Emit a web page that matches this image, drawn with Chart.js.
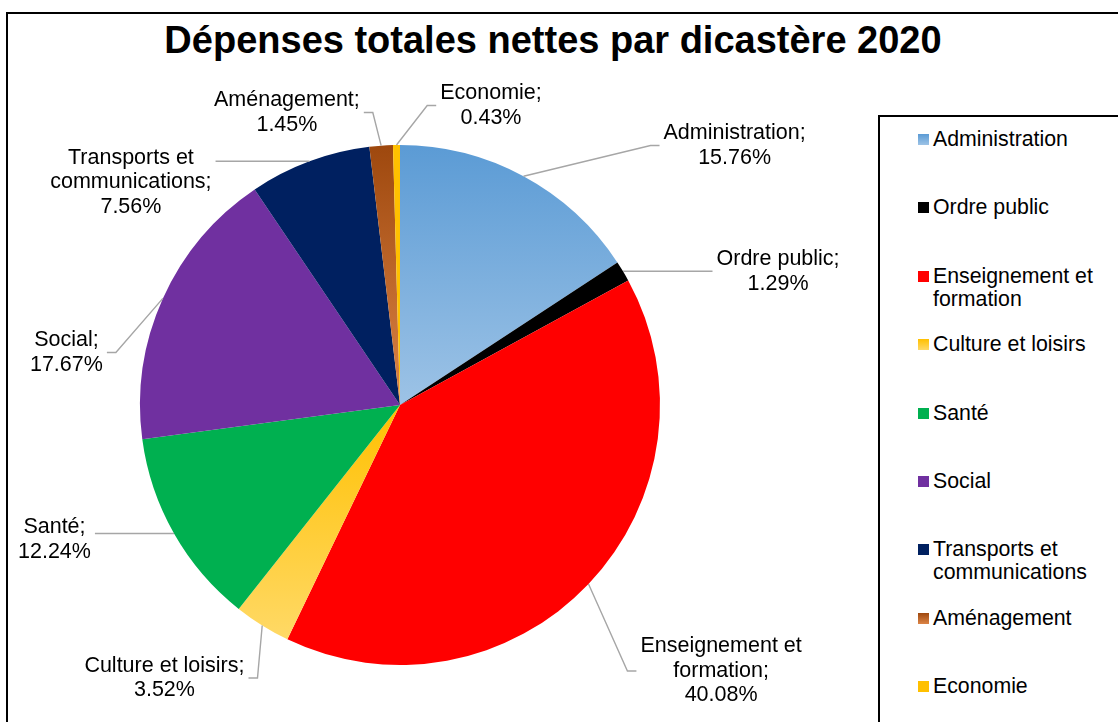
<!DOCTYPE html>
<html lang="fr">
<head>
<meta charset="utf-8">
<title>Dépenses totales nettes par dicastère 2020</title>
<script src="https://cdn.jsdelivr.net/npm/chart.js@4/dist/chart.umd.min.js"></script>
<style>
    html, body { margin: 0; padding: 0; background: #fff; overflow: hidden; }
    body { width: 1118px; height: 722px; position: relative; font-family: "Liberation Sans", Arial, sans-serif; }
    #frame {
        position: absolute; left: 6px; top: 12px; width: 1200px; height: 800px;
        border-left: 2px solid #000; border-top: 2px solid #000;
    }
    #title {
        position: absolute; left: 0; top: 18px; width: 1106px; text-align: center;
        font-weight: bold; font-size: 38px; line-height: 44px; color: #000;
    }
    #costChart { position: absolute; left: 0; top: 0; }
    #legend {
        position: absolute; left: 878px; top: 115px; width: 300px; height: 700px;
        border: 2px solid #000; background: #fff;
    }
    .item { position: absolute; left: 0; }
    .swatch { position: absolute; left: 38px; top: 6px; width: 11px; height: 11px; }
    .text { position: absolute; left: 53px; width: 180px; font-size: 21.3px; line-height: 23px; color: #000; }
</style>
</head>
<body>
<div id="frame"></div>
<div id="title">Dépenses totales nettes par dicastère 2020</div>
<canvas id="costChart" width="1118" height="722"></canvas>
<div id="legend"></div>
<script>
const categories = [
    'Administration',
    'Ordre public',
    'Enseignement et formation',
    'Culture et loisirs',
    'Santé',
    'Social',
    'Transports et communications',
    'Aménagement',
    'Economie'
];
const shares = [15.76, 1.29, 40.08, 3.52, 12.24, 17.67, 7.56, 1.45, 0.43];

// fill colours: a pair means a top-to-bottom gradient
const sliceColors = [
    ['#5B9BD5', '#9DC3E6'],
    '#000000',
    '#FF0000',
    ['#FFC000', '#FFD966'],
    '#00B050',
    '#7030A0',
    '#002060',
    ['#9E480E', '#DC8446'],
    '#FFC000'
];

// label box centres, in units of the pie radius from the pie centre
const labelOffsets = [
    [1.287, -0.998],
    [1.454, -0.513],
    [1.235, 1.023],
    [-0.906, 1.050],
    [-1.329, 0.517],
    [-1.283, -0.202],
    [-1.035, -0.856],
    [-0.435, -1.125],
    [0.350, -1.152]
];

const labelFont = '21.5px "Liberation Sans", Arial, sans-serif';
const labelLineHeight = 24.5;

function sliceFill(context) {
    const i = context.dataIndex;
    const c = sliceColors[i];
    if (!Array.isArray(c)) return c;
    const area = context.chart.chartArea;
    if (!area) return c[0];
    const cx = (area.left + area.right) / 2;
    const cy = (area.top + area.bottom) / 2;
    const r = Math.min(area.right - area.left, area.bottom - area.top) / 2;
    const total = shares.reduce((a, b) => a + b, 0);
    let before = 0;
    for (let k = 0; k < i; k++) before += shares[k];
    const a0 = -Math.PI / 2 + before / total * 2 * Math.PI;
    const a1 = a0 + shares[i] / total * 2 * Math.PI;
    let minY = cy, maxY = cy;
    for (let s = 0; s <= 40; s++) {
        const y = cy + r * Math.sin(a0 + (a1 - a0) * s / 40);
        minY = Math.min(minY, y);
        maxY = Math.max(maxY, y);
    }
    const g = context.chart.ctx.createLinearGradient(0, minY, 0, maxY);
    g.addColorStop(0, c[0]);
    g.addColorStop(1, c[1]);
    return g;
}

function wrapText(ctx, text, maxWidth) {
    const words = text.split(' ');
    const lines = [];
    let line = '';
    words.forEach(w => {
        const test = line ? line + ' ' + w : w;
        if (line && ctx.measureText(test).width > maxWidth) {
            lines.push(line);
            line = w;
        } else {
            line = test;
        }
    });
    lines.push(line);
    return lines;
}

const outsideLabels = {
    id: 'outsideLabels',
    afterDraw(chart) {
        const ctx = chart.ctx;
        const meta = chart.getDatasetMeta(0);
        ctx.save();
        ctx.font = labelFont;
        meta.data.forEach((arc, i) => {
            const r = arc.outerRadius;
            const mid = (arc.startAngle + arc.endAngle) / 2;
            const px = arc.x + r * Math.cos(mid);
            const py = arc.y + r * Math.sin(mid);

            const value = chart.data.datasets[0].data[i];
            const lines = wrapText(ctx, chart.data.labels[i] + ';', 200);
            lines.push(value.toFixed(2) + '%');
            const w = Math.max(...lines.map(l => ctx.measureText(l).width));
            const h = lines.length * labelLineHeight;
            const lx = arc.x + labelOffsets[i][0] * r;
            const ly = arc.y + labelOffsets[i][1] * r;
            const top = ly - h / 2, bottom = ly + h / 2;

            // leader line
            let ax, bx;
            if (lx > px) {
                ax = lx - w / 2 - 4;
                bx = ax - 9;
            } else {
                ax = lx + w / 2 + 4;
                bx = ax + 9;
            }
            const ay = (py >= top && py <= bottom) ? py : ly;
            ctx.strokeStyle = '#A6A6A6';
            ctx.lineWidth = 1.4;
            ctx.beginPath();
            ctx.moveTo(px, py);
            ctx.lineTo(bx, ay);
            ctx.lineTo(ax, ay);
            ctx.stroke();

            ctx.fillStyle = '#000';
            ctx.textAlign = 'center';
            ctx.textBaseline = 'middle';
            lines.forEach((l, k) => {
                ctx.fillText(l, lx, top + labelLineHeight * (k + 0.5));
            });
        });
        ctx.restore();
    }
};

const ctx = document.getElementById('costChart').getContext('2d');
window.costChart = new Chart(ctx, {
    type: 'pie',
    data: {
        labels: categories,
        datasets: [{
            data: shares,
            backgroundColor: sliceFill,
            borderWidth: 0
        }]
    },
    options: {
        responsive: false,
        animation: false,
        layout: {
            padding: { left: 140, right: 458, top: 145, bottom: 57 }
        },
        plugins: {
            legend: { display: false },
            title: { display: false },
            tooltip: { enabled: false }
        }
    },
    plugins: [outsideLabels]
});

// legend on the right
const legend = document.getElementById('legend');
categories.forEach((name, i) => {
    const c = sliceColors[i];
    const fill = Array.isArray(c) ? `linear-gradient(${c[0]}, ${c[1]})` : c;
    const item = document.createElement('div');
    item.className = 'item';
    item.style.top = (11 + i * 68.4) + 'px';
    item.innerHTML = `<div class="swatch" style="background:${fill}"></div><div class="text">${name}</div>`;
    legend.appendChild(item);
});
</script>
</body>
</html>
